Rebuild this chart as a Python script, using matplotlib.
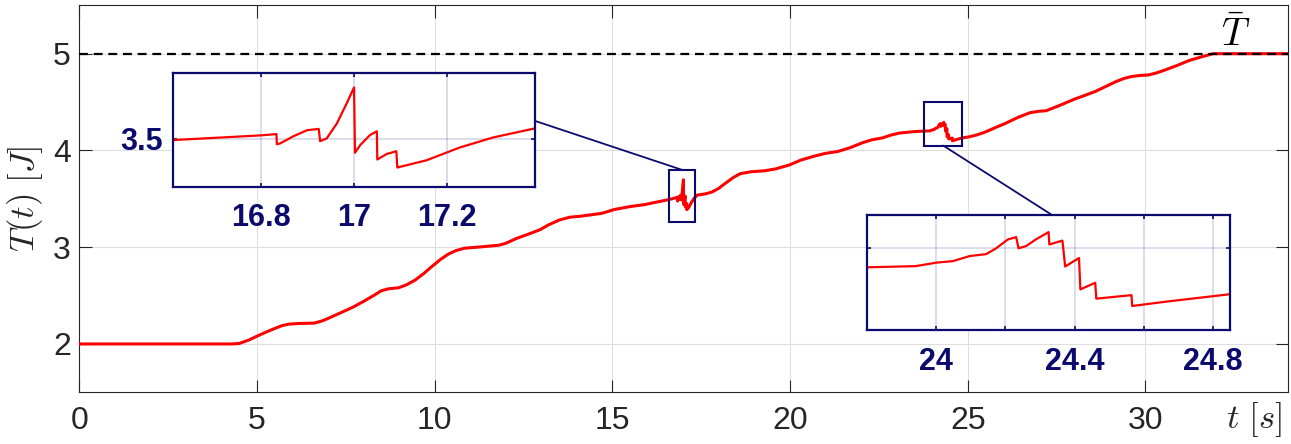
import numpy as np
import matplotlib
matplotlib.use("Agg")
import matplotlib.pyplot as plt
from matplotlib.patches import Rectangle, ConnectionPatch

plt.rcParams['font.family'] = ['Liberation Sans', 'DejaVu Sans']
plt.rcParams['mathtext.fontset'] = 'cm'

# Trajectory T(t) (including the two zoomed events)
t = [0.0, 4.3, 4.5, 4.77, 5.0, 5.24, 5.5, 5.71, 5.9, 6.2, 6.61, 6.85, 7.1,
     7.4, 7.7, 8.0, 8.28, 8.5, 8.7, 8.98, 9.2, 9.45, 9.7, 9.92, 10.15, 10.39,
     10.6, 10.85, 11.2, 11.5, 11.8, 12.0, 12.3, 12.6, 12.96, 13.2, 13.5, 13.8,
     14.1, 14.7, 15.06, 15.5, 15.9, 16.3,
     16.611, 16.799, 16.833, 16.834, 16.841, 16.87, 16.899, 16.924, 16.927,
     16.941, 16.963, 16.984, 17.0, 17.002, 17.013, 17.034, 17.049, 17.05,
     17.07, 17.091, 17.093, 17.156, 17.227, 17.299, 17.389,
     17.6, 17.8, 18.0, 18.14, 18.4, 18.6, 18.9, 19.29, 19.6, 19.98, 20.3,
     20.67, 21.0, 21.35, 21.7, 22.04, 22.3, 22.6, 22.85, 23.08, 23.5,
     23.8, 23.94, 24.0, 24.048, 24.096, 24.144, 24.173, 24.207, 24.231, 24.238,
     24.26, 24.288, 24.325, 24.327, 24.365, 24.373, 24.413, 24.417, 24.46,
     24.463, 24.565, 24.567, 24.663, 24.846,
     25.03, 25.25, 25.49, 25.8, 26.06, 26.4, 26.75, 27.0, 27.2, 27.55, 28.0,
     28.3, 28.59, 28.9, 29.16, 29.4, 29.62, 29.85, 30.08, 30.3, 30.54, 30.9,
     31.23, 31.6, 31.9, 34.0]
T = [2.0, 2.0, 2.005, 2.04, 2.08, 2.12, 2.16, 2.19, 2.205, 2.212, 2.215, 2.24, 2.28,
     2.33, 2.38, 2.44, 2.50, 2.55, 2.57, 2.58, 2.61, 2.66, 2.73, 2.80, 2.87, 2.93,
     2.965, 2.99, 3.0, 3.01, 3.02, 3.04, 3.09, 3.13, 3.18, 3.23, 3.28, 3.31,
     3.32, 3.35, 3.39, 3.42, 3.44, 3.47,
     3.494, 3.512, 3.517, 3.478, 3.481, 3.509, 3.532, 3.537, 3.490,
     3.500, 3.558, 3.635, 3.697, 3.445, 3.474, 3.513, 3.528, 3.419,
     3.440, 3.451, 3.388, 3.416, 3.465, 3.504, 3.539,
     3.55, 3.57, 3.61, 3.65, 3.72, 3.76, 3.78, 3.79, 3.81, 3.85, 3.90,
     3.94, 3.97, 3.99, 4.03, 4.08, 4.11, 4.13, 4.16, 4.18, 4.195,
     4.200, 4.203, 4.212, 4.216, 4.229, 4.234, 4.249, 4.272, 4.278, 4.249,
     4.255, 4.272, 4.291, 4.259, 4.269, 4.202, 4.224, 4.143, 4.160,
     4.119, 4.128, 4.100, 4.111, 4.130,
     4.14, 4.16, 4.19, 4.24, 4.28, 4.34, 4.39, 4.405, 4.41, 4.46, 4.53,
     4.57, 4.61, 4.665, 4.71, 4.745, 4.765, 4.775, 4.78, 4.80, 4.83, 4.88,
     4.93, 4.97, 5.0, 5.0]
T_bar = 5.0

# zoom windows
zoom1_xlim = (16.61, 17.39)
zoom1_ylim = (3.314, 3.754)
zoom1_xticks = [16.8, 17.0, 17.2]
zoom1_xlabels = ['16.8', '17', '17.2']
zoom1_yticks = [3.5]
zoom1_ylabels = ['3.5']
zoom1_box = (16.58, 17.33, 3.26, 3.80)

zoom2_xlim = (23.8, 24.85)
zoom2_ylim = (4.038, 4.336)
zoom2_xticks = [24.0, 24.2, 24.4, 24.6, 24.8]
zoom2_xlabels = ['24', '', '24.4', '', '24.8']
zoom2_yticks = [4.25]
zoom2_ylabels = ['']
zoom2_box = (23.78, 24.84, 4.05, 4.50)

navy = '#0b0b6e'
dark = '#262626'

fig = plt.figure(figsize=(12.91, 4.44), dpi=100)
ax = fig.add_axes([0.0614, 0.1164, 0.936, 0.8716])

ax.plot(t, T, color='red', lw=2.2, zorder=3)
ax.axhline(T_bar, color='black', lw=1.6, ls=(0, (4, 2.6)), zorder=4)

ax.set_xlim(0, 34)
ax.set_ylim(1.5, 5.5)
ax.set_xticks([0, 5, 10, 15, 20, 25, 30])
ax.set_yticks([2, 3, 4, 5])
ax.grid(True, color='#dedede', lw=0.8)
ax.tick_params(direction='in', length=9, width=0.8, colors=dark, labelsize=23,
               top=True, right=True)
ax.tick_params(axis='x', pad=10)
ax.tick_params(axis='y', pad=6)
for s in ax.spines.values():
    s.set_color(dark)
    s.set_linewidth(0.8)

ax.set_ylabel(r'$T(t)\ [J]$', fontsize=25, color=dark, labelpad=6)
ax.text(0.995, -0.069, r'$t\ [s]$', transform=ax.transAxes, fontsize=25,
        ha='right', va='center', color=dark)
ax.text(32.53, 5.08, r'$\bar{T}$', fontsize=28, ha='center', va='baseline')

# little boxes on the main curve
for (x0, x1, y0, y1) in [zoom1_box, zoom2_box]:
    ax.add_patch(Rectangle((x0, y0), x1 - x0, y1 - y0, fill=False,
                           edgecolor=navy, lw=1.5, zorder=5))


def make_inset(rect, xlim, ylim, xticks, xlabels, yticks, ylabels):
    ins = fig.add_axes(rect)
    ins.plot(t, T, color='red', lw=1.6)
    ins.set_xlim(*xlim)
    ins.set_ylim(*ylim)
    ins.set_xticks(xticks)
    ins.set_xticklabels(xlabels)
    ins.set_yticks(yticks)
    ins.set_yticklabels(ylabels)
    ins.grid(True, color=navy, alpha=0.17, lw=1.2)
    ins.tick_params(direction='in', length=3, width=1.2, colors=navy,
                    labelsize=22, top=True, right=True)
    ins.tick_params(axis='x', pad=12)
    ins.tick_params(axis='y', pad=7)
    for lab in ins.get_xticklabels() + ins.get_yticklabels():
        lab.set_fontweight('bold')
    for s in ins.spines.values():
        s.set_color(navy)
        s.set_linewidth(1.6)
    return ins


ins1 = make_inset([0.1338, 0.5795, 0.2809, 0.2568], zoom1_xlim, zoom1_ylim,
                  zoom1_xticks, zoom1_xlabels, zoom1_yticks, zoom1_ylabels)
ins2 = make_inset([0.6718, 0.2568, 0.2809, 0.2597], zoom2_xlim, zoom2_ylim,
                  zoom2_xticks, zoom2_xlabels, zoom2_yticks, zoom2_ylabels)

# connector lines
b1x = (zoom1_box[0] + zoom1_box[1]) / 2
b2x = (zoom2_box[0] + zoom2_box[1]) / 2
fig.add_artist(ConnectionPatch(xyA=(b1x, zoom1_box[3]), coordsA=ax.transData,
                               xyB=(1.0, 0.576), coordsB=ins1.transAxes,
                               color=navy, lw=1.3))
fig.add_artist(ConnectionPatch(xyA=(b2x, zoom2_box[2]), coordsA=ax.transData,
                               xyB=(0.508, 1.0), coordsB=ins2.transAxes,
                               color=navy, lw=1.3))

fig.savefig('out.png', dpi=100)
